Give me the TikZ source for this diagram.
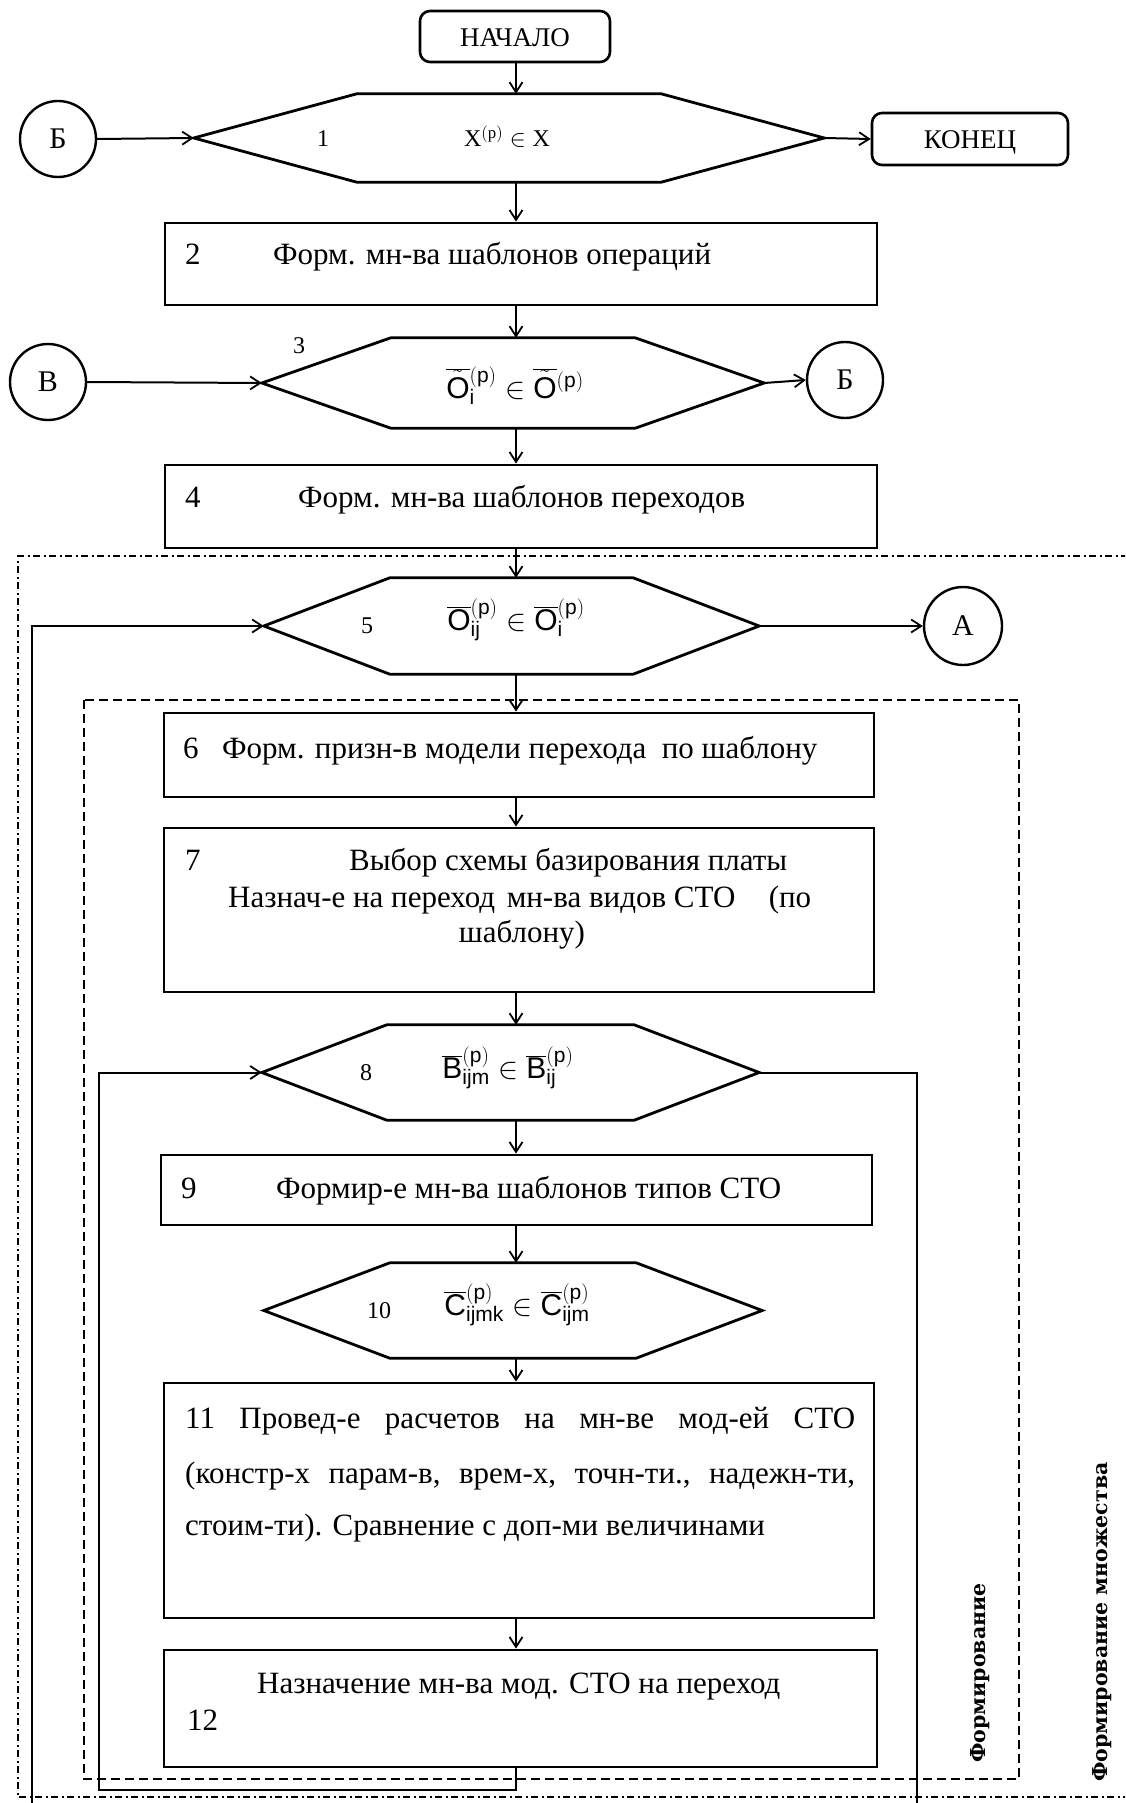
\RequirePackage{fix-cm}
\documentclass[tikz,border=0pt]{standalone}
\usepackage{fontspec}
\setmainfont{Liberation Serif}
\setsansfont{Liberation Sans}
\newfontfamily\vfont{DejaVu Serif}
\usetikzlibrary{arrows.meta}
\newcommand\hexagon[2]{\draw[hexline] (#1.west) -- ([xshift=#2]#1.north west) -- ([xshift=-#2]#1.north east) -- (#1.east) -- ([xshift=-#2]#1.south east) -- ([xshift=#2]#1.south west) -- cycle;}
\newcommand\tO{\overline{\tilde{\mathsf{O}}}}
\begin{document}
\begin{tikzpicture}[x=1pt,y=-1pt,
  term/.style={draw, rounded corners=10pt, line width=2.6pt, inner sep=0pt},
  proc/.style={draw, line width=2.8pt, inner sep=0pt},
  hexnode/.style={inner sep=0pt},
  hexline/.style={line width=2.8pt, line join=miter},
  conn/.style={draw, circle, line width=2.4pt, inner sep=0pt, minimum size=76pt, font=\fontsize{30}{34}\selectfont},
  arr/.style={line width=2pt, -{Straight Barb[length=10pt,width=13pt,line width=1.8pt]}},
  dashdotline/.style={line width=2.6pt, dash pattern=on 7pt off 3.5pt on 2pt off 3.5pt},
  dashline/.style={line width=2.6pt, dash pattern=on 9pt off 5pt},
  lbl/.style={inner sep=0pt, font=\fontsize{31}{36}\selectfont},
  hlbl/.style={inner sep=0pt, font=\fontsize{24}{28}\selectfont},
  fml/.style={inner sep=0pt, font=\fontsize{30}{34}\selectfont},
  vlbl/.style={inner sep=0pt, rotate=90, font=\vfont\bfseries\fontsize{20.5}{24}\selectfont}
]
\useasboundingbox (0,0) rectangle (1125,1803);
\clip (0,0) rectangle (1125,1803);
\fill[white] (0,0) rectangle (1125,1803);

\coordinate (col) at (516,0);

% frames
\draw[dashdotline] (1160,556) -- (18,556) -- (18,1797) -- (1160,1797);
\draw[dashline] (84,700) rectangle (1019,1779);

% terminals and connectors
\node[term, minimum width=190pt, minimum height=51pt] (start) at (515,36.5) {};
\node[inner sep=0pt, anchor=base, font=\fontsize{27}{30}\selectfont] (startt) at (515,47) {НАЧАЛО};
\node[term, minimum width=196pt, minimum height=52pt] (end) at (970,139) {};
\node[inner sep=0pt, anchor=base, font=\fontsize{27}{30}\selectfont] (endt) at (970,149) {КОНЕЦ};
\node[conn] (cB1) at (58,139) {Б};
\node[conn] (cV) at (48,382) {В};
\node[conn] (cB2) at (845,380) {Б};
\node[conn, minimum size=78pt] (cA) at (963,626) {А};

% hexagons
\node[hexnode, minimum width=630pt, minimum height=88pt] (h1) at (509,138) {};
\hexagon{h1}{163}
\node[hlbl, anchor=base] (h1n) at (323,147) {1};
\node[hlbl, anchor=base] (h1f) at (507,147) {$\mathrm{X}^{(\mathrm{p})}\in\mathrm{X}$};

\node[hexnode, minimum width=502pt, minimum height=90pt] (h3) at (513,383) {};
\hexagon{h3}{129}
\node[hlbl, anchor=base] (h3n) at (299,353) {3};
\node[fml, anchor=base] (h3f) at (515,398) {$\tO{}^{(\mathsf{p})}_{\mathsf{i}}\in\tO{}^{(\mathsf{p})}$};

\node[hexnode, minimum width=495pt, minimum height=96pt] (h5) at (511.5,626) {};
\hexagon{h5}{126}
\node[hlbl, anchor=base] (h5n) at (367,633) {5};
\node[fml, anchor=base] (h5f) at (516,630) {$\overline{\mathsf{O}}{}^{(\mathsf{p})}_{\mathsf{ij}}\in\overline{\mathsf{O}}{}^{(\mathsf{p})}_{\mathsf{i}}$};

\node[hexnode, minimum width=497pt, minimum height=95pt] (h8) at (510.5,1072.5) {};
\hexagon{h8}{125}
\node[hlbl, anchor=base] (h8n) at (366,1080) {8};
\node[fml, anchor=base] (h8f) at (508,1078) {$\overline{\mathsf{B}}{}^{(\mathsf{p})}_{\mathsf{ijm}}\in\overline{\mathsf{B}}{}^{(\mathsf{p})}_{\mathsf{ij}}$};

\node[hexnode, minimum width=498pt, minimum height=95pt] (h10) at (513,1310.5) {};
\hexagon{h10}{126}
\node[hlbl, anchor=base] (h10n) at (379,1318) {10};
\node[fml, anchor=base] (h10f) at (517,1315) {$\overline{\mathsf{C}}{}^{(\mathsf{p})}_{\mathsf{ijmk}}\in\overline{\mathsf{C}}{}^{(\mathsf{p})}_{\mathsf{ijm}}$};

% process boxes
\node[proc, minimum width=712pt, minimum height=82pt] (n2) at (521,264) {};
\node[lbl, anchor=base west] (n2n) at (185,265) {2};
\node[lbl, anchor=base west] (n2t) at (273,265) {Форм. мн-ва шаблонов операций};

\node[proc, minimum width=712pt, minimum height=83pt] (n4) at (521,506.5) {};
\node[lbl, anchor=base west] (n4n) at (185,507) {4};
\node[lbl, anchor=base west] (n4t) at (298,507) {Форм. мн-ва шаблонов переходов};

\node[proc, minimum width=710pt, minimum height=84pt] (n6) at (519,755) {};
\node[lbl, anchor=base west] (n6n) at (183,758) {6};
\node[lbl, anchor=base west] (n6t) at (222,758) {Форм. призн-в модели перехода\ \ по шаблону};

\node[proc, minimum width=710pt, minimum height=164pt] (n7) at (519,910) {};
\node[lbl, anchor=base west] (n7n) at (185,870) {7};
\node[lbl, anchor=base west] (n7a) at (349,870) {Выбор схемы базирования платы};
\node[lbl, anchor=base west] (n7b) at (228,907) {\hbox to 583pt{Назнач-е на переход\hskip 10pt plus 1fil мн-ва видов СТО\hskip 30pt plus 2fil (по}};
\node[lbl, anchor=base] (n7c) at (522,942) {шаблону)};

\node[proc, minimum width=711pt, minimum height=70pt] (n9) at (516.5,1190) {};
\node[lbl, anchor=base west] (n9n) at (181,1198) {9};
\node[lbl, anchor=base west] (n9t) at (276,1198) {Формир-е мн-ва шаблонов типов СТО};

\node[proc, minimum width=710pt, minimum height=235pt] (n11) at (519,1500.5) {};
\node[lbl, anchor=base west] (n11a) at (185,1428) {\hbox to 670pt{11\hfil Провед-е\hfil расчетов\hfil на\hfil мн-ве\hfil мод-ей\hfil СТО}};
\node[lbl, anchor=base west] (n11b) at (185,1483) {\hbox to 670pt{(констр-х\hfil парам-в,\hfil врем-х,\hfil точн-ти.,\hfil надежн-ти,}};
\node[lbl, anchor=base west] (n11c) at (185,1535) {стоим-ти). Сравнение с доп-ми величинами};

\node[proc, minimum width=713pt, minimum height=117pt] (n12) at (520.5,1708.5) {};
\node[lbl, anchor=base west] (n12t) at (257,1693) {Назначение мн-ва мод. СТО на переход};
\node[lbl, anchor=base west] (n12n) at (187,1730) {12};

% vertical labels
\node[vlbl] (v1) at (980,1673) {Формирование};
\node[vlbl] (v2) at (1102,1622) {Формирование множества};

% loop coordinates
\coordinate (lpR) at (917,1840);
\coordinate (lpL) at (32,1840);
\coordinate (ilL) at (99,1790);

% main flow arrows
\draw[arr] (start.south -| col) -- (h1.north -| col);
\draw[arr] (h1.south -| col) -- (n2.north -| col);
\draw[arr] (n2.south -| col) -- (h3.north -| col);
\draw[arr] (h3.south -| col) -- (n4.north -| col);
\draw[arr] (n4.south -| col) -- (h5.north -| col);
\draw[arr] (h5.south -| col) -- (n6.north -| col);
\draw[arr] (n6.south -| col) -- (n7.north -| col);
\draw[arr] (n7.south -| col) -- (h8.north -| col);
\draw[arr] (h8.south -| col) -- (n9.north -| col);
\draw[arr] (n9.south -| col) -- (h10.north -| col);
\draw[arr] (h10.south -| col) -- (n11.north -| col);
\draw[arr] (n11.south -| col) -- (n12.north -| col);

% side arrows
\draw[arr] (cB1.east) -- (h1.west);
\draw[arr] (h1.east) -- (end.west);
\draw[arr] (cV.east) -- (h3.west);
\draw[arr] (h3.east) -- (cB2.west);
\draw[arr] (h5.east) -- (cA.west);

% loops
\draw[arr] (n12.south -| col) -- (col |- ilL) -- (ilL) |- (h8.west);
\draw[arr] (h8.east) -| (lpR) -- (lpL) |- (h5.west);
\end{tikzpicture}
\end{document}
